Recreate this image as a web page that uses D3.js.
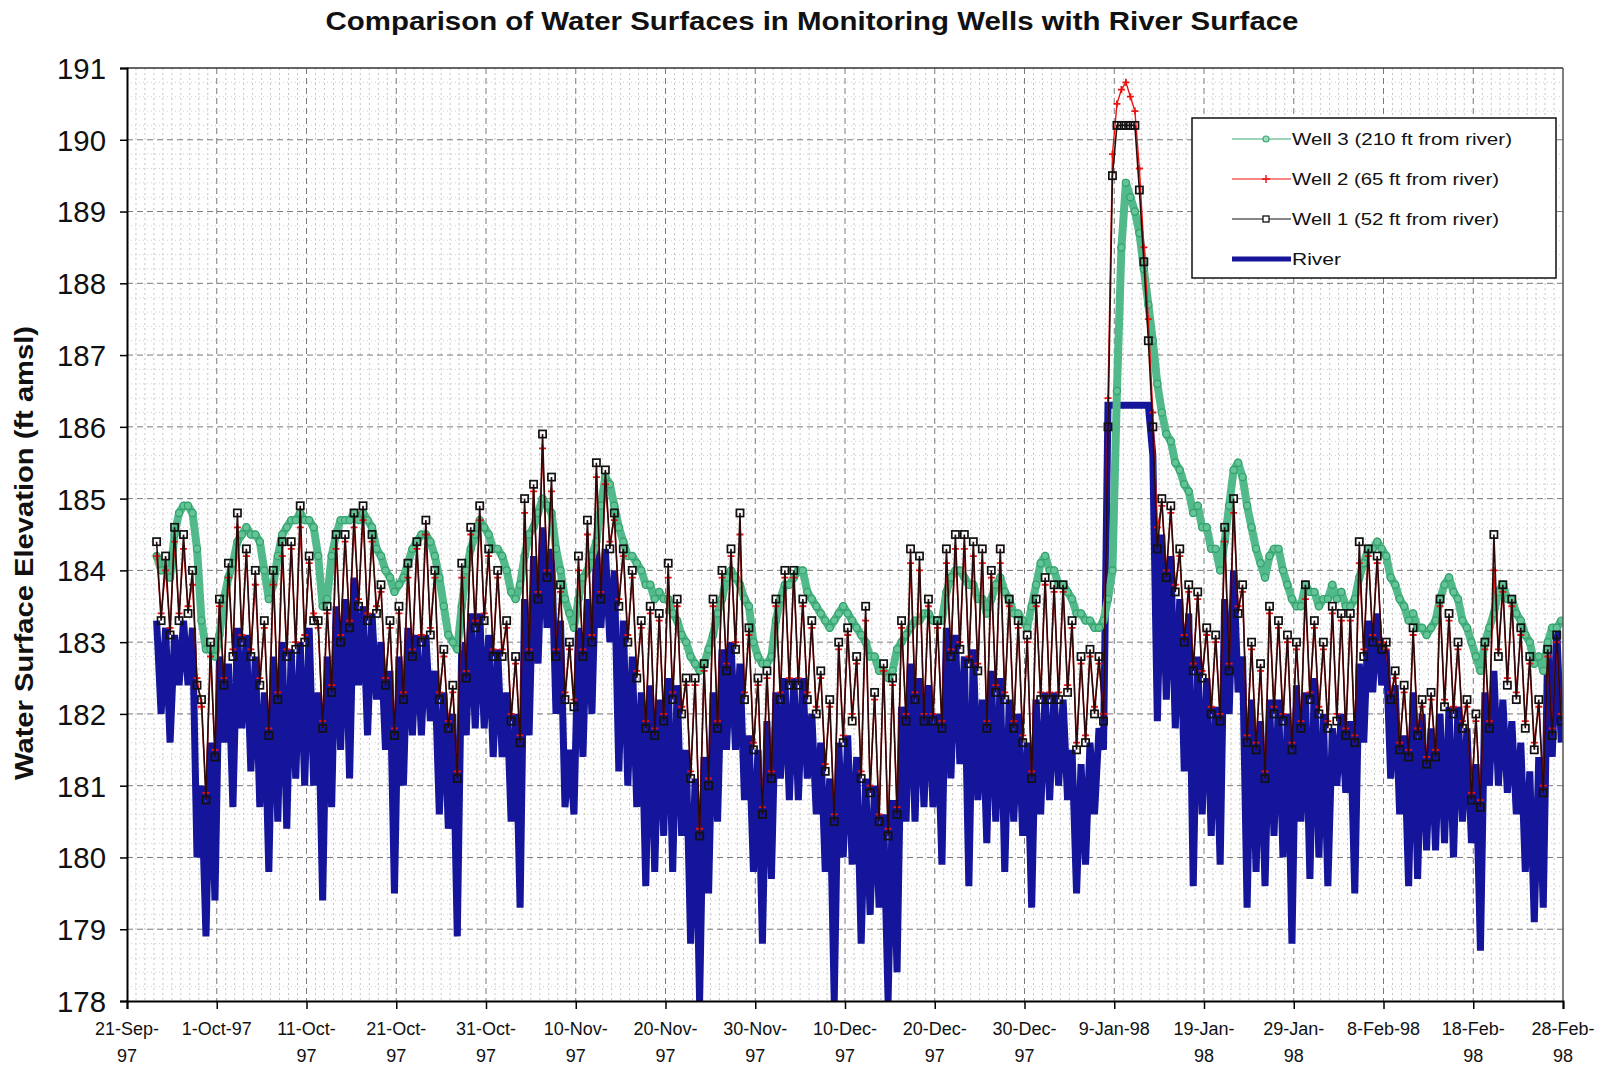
<!DOCTYPE html>
<html><head><meta charset="utf-8">
<script src="https://cdn.jsdelivr.net/npm/d3@7"></script>
<style>body{margin:0;background:#fff}svg{display:block}</style>
</head><body><svg id="c" width="1610" height="1068"></svg>
<script>
// ---------- DATA ----------
// day offsets counted from 21-Sep-97; one pair of readings (am / pm) per day
const firstDay = 3;
const readFraction = [0.3, 0.8];
const tickDays = [0,10,20,30,40,50,60,70,80,90,100,110,120,130,140,150,160];
const tickLine1 = ["21-Sep-","1-Oct-97","11-Oct-","21-Oct-","31-Oct-","10-Nov-","20-Nov-","30-Nov-","10-Dec-","20-Dec-","30-Dec-","9-Jan-98","19-Jan-","29-Jan-","8-Feb-98","18-Feb-","28-Feb-"];
const tickLine2 = ["97","","97","97","97","97","97","97","97","97","97","","98","98","","98","98"];
const yTicks = [178,179,180,181,182,183,184,185,186,187,188,189,190,191];
const seriesNames = ["Well 3 (210 ft from river)","Well 2 (65 ft from river)","Well 1 (52 ft from river)","River"];

const riverAM = [183.3,183.2,183.1,183.3,183.2,181.0,181.6,182.8,182.7,183.2,
183.1,182.8,182.3,182.8,183.0,182.9,183.0,183.2,182.3,182.8,
183.5,183.6,183.9,183.5,183.4,183.0,182.6,182.8,183.2,183.1,
183.1,182.6,182.3,182.0,183.0,183.4,183.4,183.1,182.9,182.3,
182.0,183.6,184.2,184.6,184.3,183.3,181.5,183.2,183.6,184.3,
184.3,184.0,183.3,182.8,182.3,182.4,182.2,182.5,182.4,181.5,
181.1,181.4,182.3,182.9,183.0,182.7,181.7,181.5,181.9,182.3,
182.5,182.5,182.5,182.0,181.6,181.1,181.6,181.7,181.4,181.1,
181.0,180.6,180.8,182.1,182.7,182.5,182.4,182.0,183.2,183.1,
182.8,182.9,182.2,182.6,182.5,182.2,182.0,181.6,182.2,182.3,
182.3,182.2,181.5,181.3,181.6,181.8,186.3,186.3,186.3,186.3,
186.3,185.6,184.5,184.2,183.6,183.4,182.8,182.5,182.1,183.6,
184.0,182.8,182.2,181.9,182.2,182.2,182.0,182.4,182.3,182.5,
182.0,181.8,182.0,181.9,182.7,183.3,183.4,182.9,182.4,181.7,
182.3,182.0,181.8,182.0,182.1,182.1,181.8,181.3,182.3,182.6,
182.2,181.9,181.6,181.2,181.4,183.0,183.2];
const riverPM = [182.0,181.6,182.4,182.4,180.0,178.9,179.4,181.6,180.7,181.8,
181.2,180.7,179.8,180.5,180.4,181.1,181.0,181.0,179.4,180.7,
181.5,181.1,182.4,181.7,182.2,181.5,179.5,181.0,181.7,181.7,
181.9,180.6,180.4,178.9,181.7,181.8,181.8,181.4,181.4,180.5,
179.3,181.7,182.7,183.2,182.0,180.7,180.6,181.4,182.0,183.2,
183.0,181.2,181.0,180.7,179.6,179.8,180.3,179.8,180.3,178.8,
178.0,179.5,180.5,181.5,181.5,180.8,179.8,178.8,179.7,181.1,
180.8,180.8,181.1,180.6,179.8,178.0,180.0,179.9,178.8,179.2,
179.3,178.0,178.4,180.5,180.5,180.7,180.7,179.9,181.1,181.3,
179.6,180.8,180.2,180.5,179.8,180.5,180.3,179.3,180.6,180.8,
181.0,180.8,179.5,179.9,180.6,181.5,186.3,186.3,186.3,186.3,
186.3,181.9,182.2,181.8,181.2,179.6,180.6,180.3,179.9,182.0,
182.3,179.3,179.8,179.6,180.3,180.0,178.8,180.5,179.7,180.0,
179.6,181.0,180.9,179.5,181.6,182.3,182.4,181.1,180.6,179.6,
179.7,180.1,180.1,180.2,180.0,180.5,180.2,178.7,181.0,181.0,
180.9,180.6,179.8,179.1,179.3,181.4,181.6];

const well1AM = [184.4,184.2,184.6,184.5,184.0,182.2,183.0,183.6,184.1,184.8,
184.3,184.0,183.3,184.0,184.4,184.4,184.9,184.2,183.3,183.5,
184.5,184.5,184.8,184.9,184.5,183.8,183.3,183.5,184.1,184.4,
184.7,184.0,182.9,182.4,184.1,184.6,184.9,184.3,184.0,183.3,
182.8,185.0,185.2,185.9,185.3,183.8,183.0,184.2,184.7,185.5,
185.4,184.8,184.3,184.0,183.3,183.5,183.4,184.1,183.6,182.5,
182.5,182.7,183.6,184.0,184.3,184.8,183.2,182.5,182.6,183.6,
184.0,184.0,183.6,183.3,182.6,182.2,183.0,183.2,182.8,183.5,
182.3,182.7,182.5,183.3,184.3,184.2,183.6,183.3,184.3,184.5,
184.5,184.4,184.3,184.0,184.3,183.6,183.3,183.1,183.6,183.9,
183.8,183.8,183.3,182.8,182.9,182.8,186.0,190.2,190.2,190.2,
188.3,186.0,185.0,184.9,184.3,183.8,183.7,183.2,183.1,184.6,
185.0,183.8,183.0,182.7,183.5,183.3,183.1,183.0,183.8,183.3,
183.0,183.5,183.4,183.4,184.4,184.3,184.2,183.0,182.6,182.4,
183.2,182.2,182.3,183.6,183.4,183.0,182.2,182.0,183.0,184.5,
183.8,183.6,183.2,182.8,182.2,182.9,183.1];
const well1PM = [183.3,183.1,183.3,183.4,182.4,180.8,181.4,182.4,182.8,183.0,
182.8,182.4,181.7,182.2,182.8,182.9,183.0,183.3,181.8,182.3,
183.0,183.2,183.5,183.3,183.4,182.4,181.7,182.2,182.8,183.0,
183.1,182.2,181.8,181.1,182.5,183.2,183.3,182.8,182.8,181.9,
181.6,182.8,183.6,183.9,182.8,182.2,182.1,182.8,183.0,183.6,
184.3,183.5,183.0,182.5,181.8,181.7,181.9,182.2,182.0,181.1,
180.3,181.0,181.8,182.6,182.9,182.2,181.5,180.6,181.1,182.2,
182.4,182.4,182.2,182.0,181.2,180.5,181.6,181.9,181.1,180.9,
180.5,180.3,180.6,181.9,182.2,181.9,181.9,181.8,182.8,182.9,
182.7,182.6,181.8,182.3,182.2,181.8,181.6,181.1,182.2,182.2,
182.2,182.3,181.5,181.6,182.0,181.9,189.5,190.2,190.2,189.3,
187.2,184.3,183.9,183.7,183.0,182.6,182.5,182.0,181.9,182.6,
183.4,181.6,181.5,181.1,182.0,181.9,181.5,181.8,182.2,182.0,
181.8,181.9,181.7,181.6,182.8,183.0,182.9,182.2,181.5,181.4,
181.7,181.3,181.4,182.1,182.0,181.8,180.8,180.7,181.8,182.8,
182.4,182.2,181.8,181.5,180.9,181.7,181.9];

const well2AM = [184.2,184.0,184.4,184.3,183.8,182.1,182.8,183.5,183.9,184.6,
184.2,183.8,183.2,183.8,184.2,184.3,184.6,184.1,183.2,183.4,
184.3,184.4,184.6,184.7,184.4,183.7,183.2,183.4,183.9,184.3,
184.5,183.9,182.8,182.3,183.9,184.5,184.7,184.2,183.9,183.2,
182.7,184.8,185.1,185.7,185.1,183.7,182.9,184.0,184.5,185.3,
185.2,184.7,184.2,183.9,183.2,183.4,183.3,183.9,183.5,182.4,
182.4,182.6,183.5,183.9,184.2,184.5,183.1,182.4,182.5,183.5,
183.9,183.9,183.5,183.2,182.5,182.1,182.9,183.1,182.7,183.3,
182.2,182.6,182.4,183.2,184.1,184.0,183.5,183.2,184.1,184.3,
184.3,184.2,184.1,183.9,184.1,183.5,183.2,183.0,183.5,183.8,
183.7,183.7,183.2,182.7,182.8,182.7,186.4,190.5,190.8,190.4,
188.5,186.2,184.9,184.8,184.2,183.7,183.6,183.1,183.0,184.4,
184.8,183.7,182.9,182.6,183.4,183.2,183.0,182.9,183.6,183.2,
182.9,183.4,183.3,183.3,184.1,184.2,184.1,182.9,182.5,182.3,
183.1,182.1,182.2,183.5,183.3,182.9,182.1,181.9,182.9,184.0,
183.7,183.5,183.1,182.7,182.1,182.8,183.0];
const well2PM = [183.4,183.2,183.4,183.5,182.5,180.9,181.5,182.5,182.9,183.1,
182.9,182.5,181.8,182.3,182.9,183.0,183.1,183.4,181.9,182.4,
183.1,183.3,183.6,183.4,183.5,182.5,181.8,182.3,182.9,183.1,
183.2,182.3,181.9,181.2,182.6,183.3,183.4,182.9,182.9,182.0,
181.7,182.9,183.7,184.0,182.9,182.3,182.2,182.9,183.1,183.7,
184.4,183.6,183.1,182.6,181.9,181.8,182.0,182.3,182.1,181.2,
180.4,181.1,181.9,182.7,183.0,182.3,181.6,180.7,181.2,182.3,
182.5,182.5,182.3,182.1,181.3,180.6,181.7,182.0,181.2,181.0,
180.6,180.4,180.7,182.0,182.3,182.0,182.0,181.9,182.9,183.0,
182.8,182.7,181.9,182.4,182.3,181.9,181.7,181.2,182.3,182.3,
182.3,182.4,181.6,181.7,182.1,182.0,189.8,190.7,190.6,189.6,
187.5,184.6,184.0,183.8,183.1,182.7,182.6,182.1,182.0,182.7,
183.5,181.7,181.6,181.2,182.1,182.0,181.6,181.9,182.3,182.1,
181.9,182.0,181.8,181.7,182.9,183.1,183.0,182.3,181.6,181.5,
181.8,181.4,181.5,182.2,182.1,181.9,180.9,180.8,181.9,182.9,
182.5,182.3,181.9,181.6,181.0,181.8,182.0];

const well3AM = [184.2,184.1,184.5,184.9,184.8,183.3,182.9,183.1,183.9,184.4,
184.6,184.5,184.0,183.8,184.5,184.7,184.8,184.7,184.2,183.6,
184.5,184.7,184.8,184.8,184.6,184.2,183.9,183.8,184.1,184.4,
184.5,184.2,183.5,183.0,183.5,184.3,184.7,184.5,184.3,184.0,
183.6,184.2,184.6,185.0,184.8,184.0,183.4,183.6,184.0,184.4,
185.3,184.9,184.4,184.2,184.0,183.8,183.7,183.6,183.3,183.0,
182.7,182.7,183.1,183.6,184.0,183.8,183.5,182.8,182.7,183.3,
183.8,183.9,184.0,183.6,183.4,183.2,183.4,183.4,183.2,183.0,
182.8,182.6,182.6,183.0,183.2,183.3,183.4,183.3,183.7,184.0,
183.9,183.8,183.6,183.6,183.9,183.6,183.4,183.2,183.8,184.2,
184.0,183.8,183.6,183.4,183.3,183.2,183.6,186.5,189.4,189.0,
188.2,187.2,186.2,185.8,185.4,185.1,184.9,184.6,184.3,184.4,
185.4,185.3,184.6,184.1,184.2,184.3,183.8,183.5,183.8,183.7,
183.6,183.8,183.7,183.5,183.9,184.3,184.4,184.2,183.8,183.5,
183.4,183.2,183.2,183.6,183.9,183.6,183.2,182.8,183.0,183.4,
183.8,183.6,183.3,183.0,182.8,183.0,183.2];
const well3PM = [184.0,183.9,184.8,184.9,184.3,182.9,182.8,183.6,184.1,184.5,
184.5,184.4,183.6,184.2,184.6,184.7,184.7,184.6,183.5,184.2,
184.7,184.7,184.7,184.7,184.3,184.0,183.7,183.9,184.3,184.5,
184.4,183.9,183.1,182.9,184.0,184.5,184.6,184.3,184.2,183.7,
183.8,184.5,184.8,184.9,184.3,183.6,183.2,183.9,184.2,184.9,
185.2,184.6,184.2,184.1,183.8,183.6,183.6,183.4,183.1,182.8,
182.6,182.9,183.4,183.9,183.9,183.6,183.0,182.7,182.8,183.6,
183.8,184.0,183.7,183.5,183.3,183.3,183.5,183.3,183.1,182.8,
182.6,182.5,182.9,183.1,183.3,183.4,183.3,183.3,183.9,184.0,
183.8,183.6,183.4,183.8,183.7,183.4,183.3,183.5,184.1,184.0,
183.8,183.7,183.4,183.3,183.2,183.3,184.0,188.5,189.2,188.7,
187.7,186.6,185.9,185.5,185.2,184.8,184.6,184.3,184.0,184.9,
185.5,184.9,184.3,183.9,184.3,184.0,183.6,183.5,183.7,183.5,
183.6,183.6,183.5,183.6,184.1,184.3,184.3,183.9,183.6,183.3,
183.2,183.1,183.3,183.8,183.7,183.3,183.0,182.6,183.2,183.7,
183.6,183.4,183.1,182.7,182.6,183.2,183.3];

// ---------- CHART ----------
const svg = d3.select("#c");
const L = 127, R = 1563, T = 68, B = 1001;
const x = d3.scaleLinear().domain([0,160]).range([L,R]);
const y = d3.scaleLinear().domain([178,191]).range([B,T]);

function toPoints(am, pm){
  const pts = [];
  am.forEach((v,i)=>{
    pts.push({t:firstDay+i+readFraction[0], v:v});
    pts.push({t:firstDay+i+readFraction[1], v:pm[i]});
  });
  return pts;
}
const river = toPoints(riverAM, riverPM);
const well1 = toPoints(well1AM, well1PM);
const well2 = toPoints(well2AM, well2PM);
const well3 = toPoints(well3AM, well3PM);

svg.append("defs").append("clipPath").attr("id","pc")
  .append("rect").attr("x",L).attr("y",T).attr("width",R-L).attr("height",B-T);

// grid
const grid = svg.append("g");
d3.range(1,160).filter(d=>d%10!==0).forEach(d=>{
  grid.append("line").attr("x1",x(d)).attr("x2",x(d)).attr("y1",T).attr("y2",B)
    .attr("stroke","#c4c4c4").attr("stroke-width",1).attr("stroke-dasharray","2,3");
});
d3.range(178.2,191,0.2).forEach(v=>{
  if (Math.abs(v-Math.round(v))<0.01) return;
  grid.append("line").attr("x1",L).attr("x2",R).attr("y1",y(v)).attr("y2",y(v))
    .attr("stroke","#d2d2d2").attr("stroke-width",1).attr("stroke-dasharray","1,3");
});
tickDays.slice(1,-1).forEach(d=>{
  grid.append("line").attr("x1",x(d)).attr("x2",x(d)).attr("y1",T).attr("y2",B)
    .attr("stroke","#7a7a7a").attr("stroke-width",1).attr("stroke-dasharray","6,4");
});
yTicks.slice(1,-1).forEach(v=>{
  grid.append("line").attr("x1",L).attr("x2",R).attr("y1",y(v)).attr("y2",y(v))
    .attr("stroke","#7a7a7a").attr("stroke-width",1).attr("stroke-dasharray","6,4");
});

// series
const plot = svg.append("g").attr("clip-path","url(#pc)");
const line = d3.line().x(d=>x(d.t)).y(d=>y(d.v));
const cRiver = "#14159a", cW1 = "#111111", cW2 = "#ee1111", cW3 = "#3aa874";

plot.append("path").datum(river).attr("d",line).attr("fill","none")
  .attr("stroke",cRiver).attr("stroke-width",7).attr("stroke-linejoin","miter").attr("stroke-miterlimit",1.5);

plot.append("path").datum(well3).attr("d",line).attr("fill","none").attr("stroke","#52b98a").attr("stroke-width",8).attr("stroke-linejoin","round");
plot.selectAll(".m3").data(well3).enter().append("circle")
  .attr("cx",d=>x(d.t)).attr("cy",d=>y(d.v)).attr("r",3.6)
  .attr("fill","#63c498").attr("stroke","#34a06c").attr("stroke-width",1.2);

plot.append("path").datum(well2).attr("d",line).attr("fill","none").attr("stroke",cW2).attr("stroke-width",1.4);
plot.selectAll(".m2").data(well2).enter().append("path")
  .attr("d",d=>`M${x(d.t)-3.5},${y(d.v)}H${x(d.t)+3.5}M${x(d.t)},${y(d.v)-3.5}V${y(d.v)+3.5}`)
  .attr("stroke",cW2).attr("stroke-width",1.8).attr("fill","none");

plot.append("path").datum(well1).attr("d",line).attr("fill","none").attr("stroke","#2a0a0a").attr("stroke-width",1.6);
plot.selectAll(".m1").data(well1).enter().append("rect")
  .attr("x",d=>x(d.t)-3.6).attr("y",d=>y(d.v)-3.6).attr("width",7.2).attr("height",7.2)
  .attr("fill","none").attr("stroke",cW1).attr("stroke-width",1.7);

// frame
svg.append("line").attr("x1",L).attr("x2",R).attr("y1",T).attr("y2",T).attr("stroke","#333").attr("stroke-width",1.5);
svg.append("line").attr("x1",R).attr("x2",R).attr("y1",T).attr("y2",B).attr("stroke","#555").attr("stroke-width",1.5);

// axes
const yAxis = svg.append("g").attr("transform",`translate(${L},0)`)
  .call(d3.axisLeft(y).tickValues(yTicks).tickSize(7).tickPadding(14).tickFormat(d3.format("d")));
yAxis.select(".domain").attr("stroke","#000").attr("stroke-width",2);
yAxis.selectAll(".tick line").attr("stroke","#000").attr("stroke-width",1.5);
yAxis.selectAll("text").attr("font-family","'Liberation Sans',Arial,sans-serif").attr("font-size",29)
  .attr("fill","#111").attr("textLength",49).attr("lengthAdjust","spacingAndGlyphs").attr("dy","0.36em");

const xAxis = svg.append("g").attr("transform",`translate(0,${B})`)
  .call(d3.axisBottom(x).tickValues(tickDays).tickSize(8).tickFormat(""));
xAxis.select(".domain").attr("stroke","#000").attr("stroke-width",2);
xAxis.selectAll(".tick line").attr("stroke","#000").attr("stroke-width",1.5);
const xl = svg.append("g").attr("font-family","'Liberation Sans',Arial,sans-serif").attr("font-size",18).attr("fill","#111").attr("text-anchor","middle");
tickDays.forEach((d,i)=>{
  const t = xl.append("text").attr("x",x(d)).attr("y",1035);
  t.append("tspan").attr("x",x(d)).text(tickLine1[i]);
  if (tickLine2[i]) t.append("tspan").attr("x",x(d)).attr("dy",27).text(tickLine2[i]);
});

// title & axis title
svg.append("text").attr("x",812).attr("y",30).attr("text-anchor","middle")
  .attr("font-family","'Liberation Sans',Arial,sans-serif").attr("font-weight","bold").attr("font-size",26)
  .attr("textLength",973).attr("lengthAdjust","spacingAndGlyphs").attr("fill","#111")
  .text("Comparison of Water Surfaces in Monitoring Wells with River Surface");
svg.append("text").attr("transform","translate(33,553) rotate(-90)").attr("text-anchor","middle")
  .attr("font-family","'Liberation Sans',Arial,sans-serif").attr("font-weight","bold").attr("font-size",25)
  .attr("textLength",454).attr("lengthAdjust","spacingAndGlyphs").attr("fill","#111")
  .text("Water Surface Elevation (ft amsl)");

// legend
const lg = svg.append("g");
lg.append("rect").attr("x",1192).attr("y",118).attr("width",364).attr("height",160)
  .attr("fill","#fff").attr("stroke","#111").attr("stroke-width",1.5);
const rowsY = [139,179,219,259];
const lx1 = 1232, lx2 = 1291, mx = 1266;
lg.append("line").attr("x1",lx1).attr("x2",lx2).attr("y1",rowsY[0]).attr("y2",rowsY[0]).attr("stroke",cW3).attr("stroke-width",1.2);
lg.append("circle").attr("cx",mx).attr("cy",rowsY[0]).attr("r",3).attr("fill","#9fdcbf").attr("stroke",cW3).attr("stroke-width",1.2);
lg.append("line").attr("x1",lx1).attr("x2",lx2).attr("y1",rowsY[1]).attr("y2",rowsY[1]).attr("stroke",cW2).attr("stroke-width",1.2);
lg.append("path").attr("d",`M${mx-4},${rowsY[1]}H${mx+4}M${mx},${rowsY[1]-4}V${rowsY[1]+4}`).attr("stroke",cW2).attr("stroke-width",1.4);
lg.append("line").attr("x1",lx1).attr("x2",lx2).attr("y1",rowsY[2]).attr("y2",rowsY[2]).attr("stroke",cW1).attr("stroke-width",1.2);
lg.append("rect").attr("x",mx-3).attr("y",rowsY[2]-3).attr("width",6).attr("height",6).attr("fill","#fff").attr("stroke",cW1).attr("stroke-width",1.3);
lg.append("line").attr("x1",lx1).attr("x2",lx2).attr("y1",rowsY[3]).attr("y2",rowsY[3]).attr("stroke",cRiver).attr("stroke-width",5);
const legW = [220,207,207,49];
seriesNames.forEach((n,i)=>{
  lg.append("text").attr("x",1292).attr("y",rowsY[i]+6)
    .attr("font-family","'Liberation Sans',Arial,sans-serif").attr("font-size",17).attr("fill","#111")
    .attr("textLength",legW[i]).attr("lengthAdjust","spacingAndGlyphs").text(n);
});
</script>
</body></html>
